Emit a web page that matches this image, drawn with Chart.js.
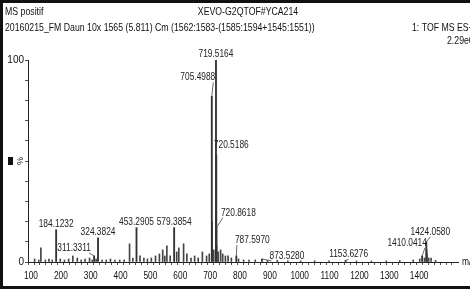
<!DOCTYPE html>
<html>
<head>
<meta charset="utf-8">
<script src="https://cdn.jsdelivr.net/npm/chart.js@4.4.1/dist/chart.umd.min.js"></script>
<style>
  html, body { margin: 0; padding: 0; background: #fff; }
  #wrap { width: 470px; height: 289px; position: relative; }
</style>
</head>
<body>
<div id="wrap"><canvas id="msChart" width="470" height="289"></canvas></div>
<script>
// labelled peaks (m/z, relative intensity %)
const labelledMz = [184.1232, 311.3311, 324.3824, 453.2905, 579.3854, 705.4988, 719.5164,
  720.5186, 720.8618, 787.5970, 873.5280, 1153.6276, 1410.0414, 1424.0580];
const labelledInt = [16, 3, 12, 17, 17, 82, 100, 53, 17, 3, 1.5, 0.8, 3, 10];

// other peaks
const otherMz = [112, 126, 133, 148, 160, 171, 198, 212, 226, 240, 255, 268, 281, 296, 305,
  318, 338, 352, 366, 381, 397, 412, 430, 441, 465, 478, 490, 503, 517, 530, 541, 548, 555,
  566, 588, 595, 611, 622, 636, 648, 660, 674, 688, 697, 706.5, 712, 721.5, 727, 735, 742,
  751, 760, 771, 795, 812, 830, 851, 892, 925, 960, 1003, 1050, 1098, 1190, 1240, 1290,
  1335, 1380, 1402, 1418, 1425.1, 1426.1, 1432, 1440, 1455];
const otherInt = [1.5, 1, 7, 1, 1.5, 1, 1.5, 1, 1.5, 3, 2, 1, 1.5, 2, 1, 1.5, 1, 1, 1.5, 1,
  1, 1, 9, 2, 3, 2, 1.5, 2, 3, 4, 6, 3, 8, 3, 5, 7, 9, 4, 2, 3, 2, 5, 3, 4, 20, 6, 8, 5, 6,
  4, 3, 3, 2, 1.5, 1, 1, 1, 0.8, 0.8, 0.6, 0.6, 0.6, 0.6, 0.5, 0.5, 0.6, 0.8, 1, 1.5, 2, 6,
  4, 2, 2, 0.8];

const xTickLabels = [100, 200, 300, 400, 500, 600, 700, 800, 900, 1000, 1100, 1200, 1300, 1400];
const yTickLabels = [0, 100];

// label offsets from peak top, px (leader line drawn when set)
const labelOffsets = {
  "705.4988": [-14, -19], "720.5186": [15, -10], "720.8618": [22, -15],
  "787.5970": [16, -16], "873.5280": [25, -3], "1153.6276": [3, -6],
  "311.3311": [-20, -8], "1410.0414": [-15, -13], "1424.0580": [4, -10]
};

const FONT = "'Liberation Sans', Arial, sans-serif";
const SQUEEZE = 0.76;

// condensed text, the original is a narrow font
function condText(ctx, txt, x, y, align) {
  ctx.save();
  ctx.translate(x, y);
  ctx.scale(SQUEEZE, 1);
  ctx.textAlign = align || "left";
  ctx.fillText(txt, 0, 0);
  ctx.restore();
}

const peakLabels = {
  id: "peakLabels",
  afterDatasetsDraw(chart) {
    const ctx = chart.ctx;
    const xs = chart.scales.x, ys = chart.scales.y;
    ctx.save();
    ctx.font = "11px " + FONT;
    ctx.fillStyle = "#222";
    ctx.strokeStyle = "#444";
    ctx.lineWidth = 0.8;
    ctx.textBaseline = "middle";
    labelledMz.forEach((mz, i) => {
      const txt = mz.toFixed(4);
      const px = xs.getPixelForValue(mz);
      const py = ys.getPixelForValue(labelledInt[i]);
      const off = labelOffsets[txt];
      let lx = px, ly = py - 6;
      if (off) {
        lx = px + off[0];
        ly = py + off[1];
        const hw = ctx.measureText(txt).width * SQUEEZE / 2;
        let sx = lx, sy = ly + 5;
        if (off[0] > 6) sx = lx - hw + 2;
        else if (off[0] < -6) sx = lx + hw - 2;
        ctx.beginPath();
        ctx.moveTo(sx, sy);
        ctx.lineTo(px, py);
        ctx.stroke();
      }
      condText(ctx, txt, lx, ly, "center");
    });

    // x tick labels, placed by the x scale
    ctx.fillStyle = "#111";
    xTickLabels.forEach((v) => {
      condText(ctx, String(v), xs.getPixelForValue(v), 276, "center");
    });
    ctx.restore();
  }
};

const decorations = {
  id: "decorations",
  beforeDraw(chart) {
    const ctx = chart.ctx;
    ctx.save();
    ctx.fillStyle = "#fff";
    ctx.fillRect(0, 0, chart.width, chart.height);
    ctx.restore();
  },
  afterDraw(chart) {
    const ctx = chart.ctx;
    ctx.save();
    ctx.fillStyle = "#111";
    ctx.textBaseline = "middle";
    ctx.font = "11.5px " + FONT;
    condText(ctx, "MS positif", 5, 12);
    condText(ctx, "20160215_FM Daun 10x 1565 (5.811) Cm (1562:1583-(1585:1594+1545:1551))", 5, 28);
    condText(ctx, "1: TOF MS ES+", 412, 28);
    condText(ctx, "2.29e6", 447, 41);
    condText(ctx, "XEVO-G2QTOF#YCA214", 248, 12, "center");
    // y axis title
    ctx.fillRect(8, 157, 5, 8);
    ctx.save();
    ctx.translate(21, 161);
    ctx.rotate(-Math.PI / 2);
    ctx.font = "9px " + FONT;
    ctx.textAlign = "center";
    ctx.fillText("%", 0, 0);
    ctx.restore();
    ctx.font = "11px " + FONT;
    condText(ctx, "m/z", 462, 262);
    // frame: left, top, bottom (right side is cut off in the original)
    ctx.strokeStyle = "#111";
    ctx.lineWidth = 3;
    ctx.beginPath();
    ctx.moveTo(470, 1.5);
    ctx.lineTo(1.5, 1.5);
    ctx.lineTo(1.5, 287.5);
    ctx.lineTo(470, 287.5);
    ctx.stroke();
    ctx.restore();
  }
};

const data = {
  datasets: [
    {
      data: labelledMz.map((m, i) => ({ x: m, y: labelledInt[i] })),
      backgroundColor: "#333",
      barThickness: 1.2,
      grouped: false
    },
    {
      data: otherMz.map((m, i) => ({ x: m, y: otherInt[i] })),
      backgroundColor: "#444",
      barThickness: 1,
      grouped: false
    }
  ]
};

const config = {
  type: "bar",
  data: data,
  options: {
    responsive: false,
    animation: false,
    layout: { padding: { top: 60, right: 12, left: 0, bottom: 0 } },
    plugins: { legend: { display: false }, tooltip: { enabled: false } },
    scales: {
      x: {
        type: "linear",
        min: 100,
        max: 1520,
        afterFit(scale) { scale.height = 27; },
        afterBuildTicks(scale) {
          const t = [];
          for (let v = 100; v <= 1500; v += 20) t.push({ value: v });
          scale.ticks = t;
        },
        ticks: {
          autoSkip: false,
          maxRotation: 0,
          callback: () => ""
        },
        grid: { drawOnChartArea: false, tickLength: 3, color: "#555" },
        border: { color: "#222" }
      },
      y: {
        min: 0,
        max: 100,
        afterFit(scale) { scale.width = 28; },
        ticks: {
          stepSize: 10,
          padding: 1,
          color: "#111",
          font: { family: FONT, size: 10 },
          callback: (v) => (yTickLabels.includes(v) ? String(v) : "")
        },
        grid: { drawOnChartArea: false, tickLength: 3, color: "#555" },
        border: { color: "#222" }
      }
    }
  },
  plugins: [decorations, peakLabels]
};

new Chart(document.getElementById("msChart"), config);
</script>
</body>
</html>
